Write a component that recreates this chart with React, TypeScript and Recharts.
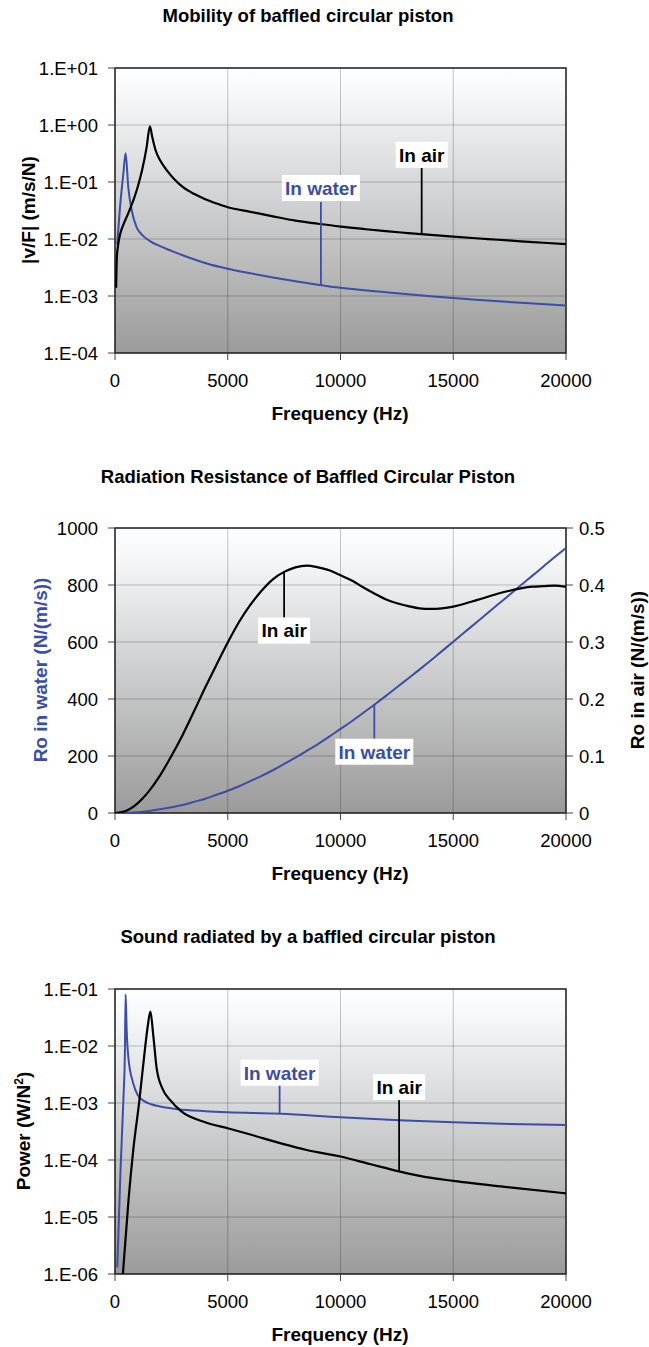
import React from 'react';
import {
  LineChart, Line, XAxis, YAxis, CartesianGrid,
  ReferenceArea, ReferenceLine, ReferenceDot
} from 'recharts';

const FREQ_TICKS = [0, 5000, 10000, 15000, 20000];

// --- Mobility of baffled circular piston (log y, m/s/N)
const MOB_TICKS = [1e-4, 1e-3, 1e-2, 1e-1, 1, 10];
const MOB_AIR_F = [50, 80, 150, 250, 400, 550, 800, 1000, 1200, 1400, 1550, 1650, 1800, 2000, 2300, 2600, 3000, 3500, 4000, 4500, 5000, 6000, 7000, 8000, 9000, 10000, 11000, 12000, 13000, 14000, 15000, 16000, 17000, 18000, 19000, 20000];
const MOB_AIR_V = [0.0014, 0.0045, 0.0085, 0.013, 0.019, 0.026, 0.046, 0.08, 0.16, 0.4, 0.95, 0.62, 0.36, 0.24, 0.16, 0.115, 0.082, 0.062, 0.05, 0.042, 0.036, 0.03, 0.025, 0.021, 0.0185, 0.0165, 0.015, 0.0137, 0.0127, 0.0118, 0.011, 0.0103, 0.0097, 0.0091, 0.0086, 0.0081];
const MOB_WATER_F = [100, 250, 370, 470, 590, 740, 960, 1200, 1550, 2000, 2500, 3000, 4000, 5000, 6000, 7000, 8000, 9000, 10000, 12000, 14000, 16000, 18000, 20000];
const MOB_WATER_V = [0.008, 0.048, 0.14, 0.32, 0.08, 0.032, 0.016, 0.0118, 0.0092, 0.0075, 0.0062, 0.0052, 0.0038, 0.003, 0.0025, 0.00212, 0.00182, 0.00158, 0.00139, 0.00116, 0.00099, 0.00086, 0.00076, 0.00068];

// --- Radiation resistance (water left axis, air right axis)
const RES_F = [0, 500, 1000, 1500, 2000, 2500, 3000, 3500, 4000, 4500, 5000, 5500, 6000, 6500, 7000, 7500, 8000, 8500, 9000, 9500, 10000, 10500, 11000, 11500, 12000, 12500, 13000, 13500, 14000, 14500, 15000, 15500, 16000, 16500, 17000, 17500, 18000, 18500, 19000, 19500, 20000];
const RES_WATER = [0, 1, 3, 7, 13, 20, 28, 39, 50, 64, 78, 94, 112, 130, 150, 172, 194, 218, 242, 268, 295, 322, 351, 380, 410, 441, 472, 503, 535, 568, 601, 634, 667, 700, 733, 766, 799, 832, 865, 898, 930];
const RES_AIR = [0, 0.004, 0.017, 0.038, 0.066, 0.1, 0.137, 0.178, 0.22, 0.26, 0.299, 0.335, 0.365, 0.39, 0.41, 0.423, 0.431, 0.434, 0.431, 0.426, 0.417, 0.408, 0.396, 0.385, 0.375, 0.368, 0.363, 0.359, 0.358, 0.359, 0.362, 0.367, 0.373, 0.379, 0.385, 0.39, 0.394, 0.397, 0.398, 0.399, 0.397];
const WATER_TICKS = [0, 200, 400, 600, 800, 1000];
const AIR_TICKS = [0, 0.1, 0.2, 0.3, 0.4, 0.5];

// --- Sound power (log y, W/N^2)
const POW_TICKS = [1e-6, 1e-5, 1e-4, 1e-3, 1e-2, 1e-1];
const POW_WATER_F = [100, 150, 250, 370, 440, 470, 520, 590, 810, 1000, 1260, 1600, 2000, 2780, 4000, 5000, 7360, 10000, 12600, 15000, 17500, 20000];
const POW_WATER_V = [1.3e-6, 5e-6, 7.5e-5, 1.1e-3, 8e-3, 8e-2, 1.8e-2, 6.4e-3, 2.2e-3, 1.4e-3, 1.1e-3, 9.5e-4, 8.7e-4, 7.8e-4, 7.2e-4, 6.9e-4, 6.5e-4, 5.6e-4, 5e-4, 4.6e-4, 4.3e-4, 4.1e-4];
const POW_AIR_F = [350, 600, 810, 1080, 1300, 1450, 1570, 1700, 1850, 2100, 2470, 2930, 4000, 5000, 6000, 7480, 8500, 10000, 11300, 12600, 13800, 15000, 17500, 20000];
const POW_AIR_V = [1e-6, 2e-5, 1.5e-4, 1.1e-3, 7e-3, 2.2e-2, 4e-2, 1.5e-2, 4e-3, 1.8e-3, 1.1e-3, 7.2e-4, 4.6e-4, 3.6e-4, 2.8e-4, 1.9e-4, 1.5e-4, 1.15e-4, 8.5e-5, 6.3e-5, 5e-5, 4.3e-5, 3.3e-5, 2.6e-5];

const BLUE = '#3b4ea3';
const FONT = '"Liberation Sans", Arial, sans-serif';

const zip = (fs: number[], vs: number[]) => fs.map((f, i) => ({ f, v: vs[i] }));

const expLabel = (v: number) => {
  const e = Math.round(Math.log10(v));
  return '1.E' + (e < 0 ? '-' : '+') + String(Math.abs(e)).padStart(2, '0');
};

const tag = (text: string, color: string, w: number) => (props: any) => {
  const { cx, cy } = props;
  return (
    <g>
      <rect x={cx - w / 2} y={cy - 13} width={w} height={26} fill="#fff" />
      <text x={cx} y={cy} dy="0.36em" textAnchor="middle" fontSize={19}
        fontWeight="bold" fill={color} fontFamily={FONT}>{text}</text>
    </g>
  );
};

const tickStyle = { fontSize: 18.5, fill: '#000' };

function Bg({ id }: { id: string }) {
  return (
    <defs>
      <linearGradient id={id} x1="0" y1="0" x2="0" y2="1">
        <stop offset="0%" stopColor="#fdfeff" />
        <stop offset="8%" stopColor="#f8f9fb" />
        <stop offset="100%" stopColor="#9b9b9b" />
      </linearGradient>
    </defs>
  );
}

function FreqAxis() {
  return (
    <XAxis type="number" dataKey="f" domain={[0, 20000]} ticks={FREQ_TICKS} interval={0}
      height={30} tickSize={7} tickMargin={14} axisLine={false}
      tickLine={{ stroke: '#444' }} tick={tickStyle} allowDataOverflow />
  );
}

function MobilityChart() {
  return (
    <LineChart width={649} height={460} margin={{ top: 68, right: 83, bottom: 77, left: 0 }}>
      <Bg id="bg1" />
      <CartesianGrid stroke="rgba(0,0,0,0.22)" fill="url(#bg1)" fillOpacity={1} />
      {FreqAxis()}
      <YAxis type="number" scale="log" domain={[1e-4, 10]} ticks={MOB_TICKS} interval={0}
        width={115} tickSize={7} tickMargin={10} axisLine={false} tickLine={{ stroke: '#444' }}
        tick={tickStyle} tickFormatter={expLabel} allowDataOverflow />
      <ReferenceArea x1={0} x2={20000} y1={1e-4} y2={10} fill="none" stroke="#222" strokeWidth={1.5} />
      <Line type="monotone" data={zip(MOB_WATER_F, MOB_WATER_V)} dataKey="v" stroke={BLUE}
        strokeWidth={2} dot={false} activeDot={false} isAnimationActive={false} />
      <Line type="monotone" data={zip(MOB_AIR_F, MOB_AIR_V)} dataKey="v" stroke="#000"
        strokeWidth={2.2} dot={false} activeDot={false} isAnimationActive={false} />
      <ReferenceLine segment={[{ x: 13600, y: 0.176 }, { x: 13600, y: 0.0122 }]} stroke="#000" strokeWidth={1.8} />
      <ReferenceLine segment={[{ x: 9130, y: 0.0447 }, { x: 9130, y: 0.00152 }]} stroke={BLUE} strokeWidth={1.8} />
      <ReferenceDot x={13600} y={0.3} r={0} shape={tag('In air', '#000', 52)} />
      <ReferenceDot x={9130} y={0.0785} r={0} shape={tag('In water', BLUE, 78)} />
    </LineChart>
  );
}

function ResistanceChart() {
  return (
    <LineChart width={649} height={460} margin={{ top: 68, right: 0, bottom: 77, left: 0 }}>
      <Bg id="bg2" />
      <CartesianGrid stroke="rgba(0,0,0,0.22)" fill="url(#bg2)" fillOpacity={1} />
      {FreqAxis()}
      <YAxis type="number" domain={[0, 1000]} ticks={WATER_TICKS} interval={0}
        width={115} tickSize={7} tickMargin={10} axisLine={false} tickLine={{ stroke: '#444' }}
        tick={tickStyle} allowDataOverflow />
      <YAxis yAxisId="air" orientation="right" type="number" domain={[0, 0.5]} ticks={AIR_TICKS} interval={0}
        width={83} tickSize={7} tickMargin={6} axisLine={false} tickLine={{ stroke: '#444' }}
        tick={tickStyle} allowDataOverflow />
      <ReferenceArea x1={0} x2={20000} y1={0} y2={1000} fill="none" stroke="#222" strokeWidth={1.5} />
      <Line type="monotone" data={zip(RES_F, RES_WATER)} dataKey="v" stroke={BLUE}
        strokeWidth={2} dot={false} activeDot={false} isAnimationActive={false} />
      <Line yAxisId="air" type="monotone" data={zip(RES_F, RES_AIR)} dataKey="v" stroke="#000"
        strokeWidth={2.2} dot={false} activeDot={false} isAnimationActive={false} />
      <ReferenceLine segment={[{ x: 7500, y: 847 }, { x: 7500, y: 686 }]} stroke="#000" strokeWidth={1.8} />
      <ReferenceLine segment={[{ x: 11500, y: 380 }, { x: 11500, y: 261 }]} stroke={BLUE} strokeWidth={1.8} />
      <ReferenceDot x={7500} y={640} r={0} shape={tag('In air', '#000', 52)} />
      <ReferenceDot x={11500} y={215} r={0} shape={tag('In water', BLUE, 78)} />
    </LineChart>
  );
}

function PowerChart() {
  return (
    <LineChart width={649} height={426} margin={{ top: 68, right: 83, bottom: 43, left: 0 }}>
      <Bg id="bg3" />
      <CartesianGrid stroke="rgba(0,0,0,0.22)" fill="url(#bg3)" fillOpacity={1} />
      {FreqAxis()}
      <YAxis type="number" scale="log" domain={[1e-6, 1e-1]} ticks={POW_TICKS} interval={0}
        width={115} tickSize={7} tickMargin={10} axisLine={false} tickLine={{ stroke: '#444' }}
        tick={tickStyle} tickFormatter={expLabel} allowDataOverflow />
      <ReferenceArea x1={0} x2={20000} y1={1e-6} y2={1e-1} fill="none" stroke="#222" strokeWidth={1.5} />
      <Line type="monotone" data={zip(POW_WATER_F, POW_WATER_V)} dataKey="v" stroke={BLUE}
        strokeWidth={2} dot={false} activeDot={false} isAnimationActive={false} />
      <Line type="monotone" data={zip(POW_AIR_F, POW_AIR_V)} dataKey="v" stroke="#000"
        strokeWidth={2.2} dot={false} activeDot={false} isAnimationActive={false} />
      <ReferenceLine segment={[{ x: 7300, y: 2.1e-3 }, { x: 7300, y: 6.5e-4 }]} stroke={BLUE} strokeWidth={1.8} />
      <ReferenceLine segment={[{ x: 12600, y: 1.13e-3 }, { x: 12600, y: 6.3e-5 }]} stroke="#000" strokeWidth={1.8} />
      <ReferenceDot x={7300} y={3.4e-3} r={0} shape={tag('In water', BLUE, 78)} />
      <ReferenceDot x={12600} y={1.9e-3} r={0} shape={tag('In air', '#000', 52)} />
    </LineChart>
  );
}

const centered = (x: number, y: number, rot = 0): React.CSSProperties => ({
  position: 'absolute', left: x, top: y, whiteSpace: 'nowrap', lineHeight: 1,
  transform: `translate(-50%, -50%)${rot ? ` rotate(${rot}deg)` : ''}`,
});

const title: React.CSSProperties = { fontSize: 18.5, fontWeight: 'bold', color: '#000' };
const axisTitle: React.CSSProperties = { fontSize: 19, fontWeight: 'bold', color: '#000' };

export default function App() {
  return (
    <div style={{ position: 'absolute', left: 0, top: 0, width: 649, height: 1347, overflow: 'hidden', background: '#fff', fontFamily: FONT }}>
      <div style={{ position: 'absolute', left: 0, top: 0 }}><MobilityChart /></div>
      <div style={{ position: 'absolute', left: 0, top: 460 }}><ResistanceChart /></div>
      <div style={{ position: 'absolute', left: 0, top: 921 }}><PowerChart /></div>

      <div style={{ ...centered(308, 16), ...title }}>Mobility of baffled circular piston</div>
      <div style={{ ...centered(308, 477), ...title }}>Radiation Resistance of Baffled Circular Piston</div>
      <div style={{ ...centered(308, 937), ...title }}>Sound radiated by a baffled circular piston</div>

      <div style={{ ...centered(340, 413), ...axisTitle }}>Frequency (Hz)</div>
      <div style={{ ...centered(340, 873), ...axisTitle }}>Frequency (Hz)</div>
      <div style={{ ...centered(340, 1334), ...axisTitle }}>Frequency (Hz)</div>

      <div style={{ ...centered(28, 210, -90), ...axisTitle }}>|v/F| (m/s/N)</div>
      <div style={{ ...centered(40, 670, -90), ...axisTitle, color: BLUE }}>Ro in water (N/(m/s))</div>
      <div style={{ ...centered(637, 670, -90), ...axisTitle }}>Ro in air (N/(m/s))</div>
      <div style={{ ...centered(23, 1131, -90), ...axisTitle }}>Power (W/N<sup style={{ fontSize: 12 }}>2</sup>)</div>
    </div>
  );
}
